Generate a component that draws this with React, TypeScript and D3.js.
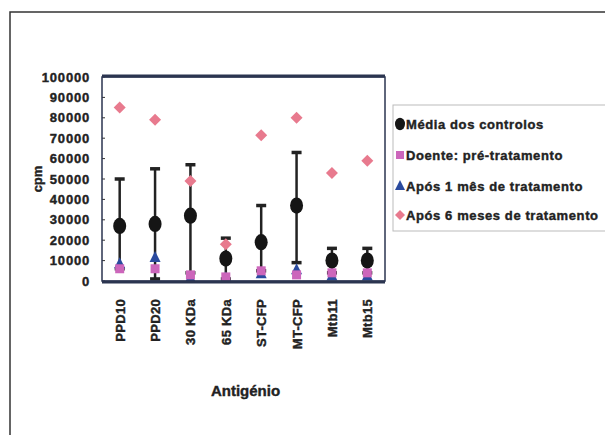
import * as d3 from "d3";
import React from "react";

// antigen categories on the x axis
const categories = ["PPD10", "PPD20", "30 KDa", "65 KDa", "ST-CFP", "MT-CFP", "Mtb11", "Mtb15"];
// Média dos controlos, with error bar limits
const controlMean = [27000, 28000, 32000, 11000, 19000, 37000, 10000, 10000];
const controlHigh = [50000, 55000, 57000, 21000, 37000, 63000, 16000, 16000];
const controlLow = [6000, 1000, 4000, 1000, 5000, 9000, 4000, 4000];
// Doente: pré-tratamento
const preTreatment = [6000, 6000, 3000, 2000, 5000, 3000, 4000, 4000];
// Após 1 mês de tratamento
const oneMonth = [9000, 12000, 2000, 2000, 4000, 6000, 3000, 3000];
// Após 6 meses de tratamento
const sixMonths = [85000, 79000, 49000, 18000, 71500, 80000, 53000, 59000];
const yTicks = [0, 10000, 20000, 30000, 40000, 50000, 60000, 70000, 80000, 90000, 100000];
const legendLabels = [
  "Média dos controlos",
  "Doente: pré-tratamento",
  "Após 1 mês de tratamento",
  "Após 6 meses de tratamento",
];

const W = 605;
const H = 435;
const plot = { left: 102, right: 385, top: 77, bottom: 281 };
const font = "'Liberation Sans', Arial, sans-serif";
const ink = "#222";

const colors = {
  circle: "#151515",
  square: "#cc66bb",
  triangle: "#2a4a9e",
  diamond: "#e87a8e",
};

const x = d3.scaleBand().domain(categories).range([plot.left, plot.right]);
const y = d3.scaleLinear().domain([0, 100000]).range([plot.bottom, plot.top]);
const cx = (c: string) => (x(c) ?? 0) + x.bandwidth() / 2;

// bold scanned-looking text
const textStyle = {
  fontFamily: font,
  fontWeight: "bold" as const,
  fill: ink,
  stroke: ink,
  strokeWidth: 0.4,
};

const Square = ({ px, py, s = 9 }: { px: number; py: number; s?: number }) => (
  <rect x={px - s / 2} y={py - s / 2} width={s} height={s} fill={colors.square} />
);
const Triangle = ({ px, py, s = 11 }: { px: number; py: number; s?: number }) => (
  <path d={`M${px},${py - s / 2}L${px + s / 2},${py + s / 2}L${px - s / 2},${py + s / 2}Z`} fill={colors.triangle} />
);
const Diamond = ({ px, py, s = 12 }: { px: number; py: number; s?: number }) => (
  <path d={`M${px},${py - s / 2}L${px + s / 2},${py}L${px},${py + s / 2}L${px - s / 2},${py}Z`} fill={colors.diamond} />
);
const Dot = ({ px, py, r = 6.5 }: { px: number; py: number; r?: number }) => (
  <ellipse cx={px} cy={py} rx={r} ry={r * 1.25} fill={colors.circle} />
);

export default function App() {
  const legendY = [124, 155, 186, 215];
  return (
    <svg
      width={W}
      height={H}
      style={{ position: "absolute", left: 0, top: 0, background: "#fff" }}
    >
      {/* outer chart frame */}
      <rect x={10} y={12} width={W} height={H} fill="none" stroke="#333" strokeWidth={1.5} />

      {/* y axis ticks and labels */}
      {yTicks.map((t) => (
        <g key={t}>
          <line x1={plot.left} x2={plot.left + 3} y1={y(t)} y2={y(t)} stroke="#333" />
          <text
            {...textStyle}
            x={plot.left - 12}
            y={y(t)}
            dy="0.36em"
            textAnchor="end"
            fontSize={13}
            letterSpacing={0.8}
          >
            {t}
          </text>
        </g>
      ))}

      {/* control error bars */}
      {categories.map((c, i) => (
        <g key={"e" + c}>
          <line x1={cx(c)} x2={cx(c)} y1={y(controlHigh[i])} y2={y(controlLow[i])} stroke="#222" strokeWidth={2.5} />
          <line x1={cx(c) - 5} x2={cx(c) + 5} y1={y(controlHigh[i])} y2={y(controlHigh[i])} stroke="#222" strokeWidth={3.5} />
          <line x1={cx(c) - 5} x2={cx(c) + 5} y1={y(controlLow[i])} y2={y(controlLow[i])} stroke="#222" strokeWidth={3.5} />
        </g>
      ))}

      {categories.map((c, i) => (
        <Diamond key={"d" + c} px={cx(c)} py={y(sixMonths[i])} />
      ))}
      {categories.map((c, i) => (
        <Dot key={"c" + c} px={cx(c)} py={y(controlMean[i])} />
      ))}
      {categories.map((c, i) => (
        <Triangle key={"t" + c} px={cx(c)} py={y(oneMonth[i])} />
      ))}
      {categories.map((c, i) => (
        <Square key={"s" + c} px={cx(c)} py={y(preTreatment[i])} />
      ))}

      {/* plot frame */}
      <rect
        x={plot.left}
        y={plot.top}
        width={plot.right - plot.left}
        height={plot.bottom - plot.top}
        fill="none"
        stroke="#2b3550"
        strokeWidth={1.5}
      />
      <line x1={plot.left} x2={plot.right} y1={plot.top - 1} y2={plot.top - 1} stroke="#2b3550" strokeWidth={3} />
      <line x1={plot.left} x2={plot.right} y1={plot.bottom + 1} y2={plot.bottom + 1} stroke="#2b3550" strokeWidth={3} />

      {/* x tick labels */}
      {categories.map((c) => (
        <text
          {...textStyle}
          key={"x" + c}
          transform={`translate(${cx(c) + 5},${plot.bottom + 18}) rotate(-90)`}
          textAnchor="end"
          fontSize={13}
          letterSpacing={0.3}
        >
          {c}
        </text>
      ))}

      {/* axis titles */}
      <text
        {...textStyle}
        x={(plot.left + plot.right) / 2 + 2}
        y={396}
        textAnchor="middle"
        fontSize={15}
      >
        Antigénio
      </text>
      <text
        {...textStyle}
        transform={`translate(42,${(plot.top + plot.bottom) / 2}) rotate(-90)`}
        textAnchor="middle"
        fontSize={13}
      >
        cpm
      </text>

      {/* legend */}
      <rect x={393} y={105} width={W} height={126} fill="#fff" stroke="#bbb" strokeWidth={1} />
      <Dot px={400} py={legendY[0]} r={5} />
      <Square px={400} py={legendY[1]} s={8} />
      <Triangle px={400} py={legendY[2] - 1} s={10} />
      <Diamond px={400} py={legendY[3]} s={10} />
      {legendLabels.map((l, i) => (
        <text
          {...textStyle}
          key={l}
          x={406}
          y={legendY[i]}
          dy="0.36em"
          fontSize={13}
          letterSpacing={0.6}
        >
          {l}
        </text>
      ))}
    </svg>
  );
}
